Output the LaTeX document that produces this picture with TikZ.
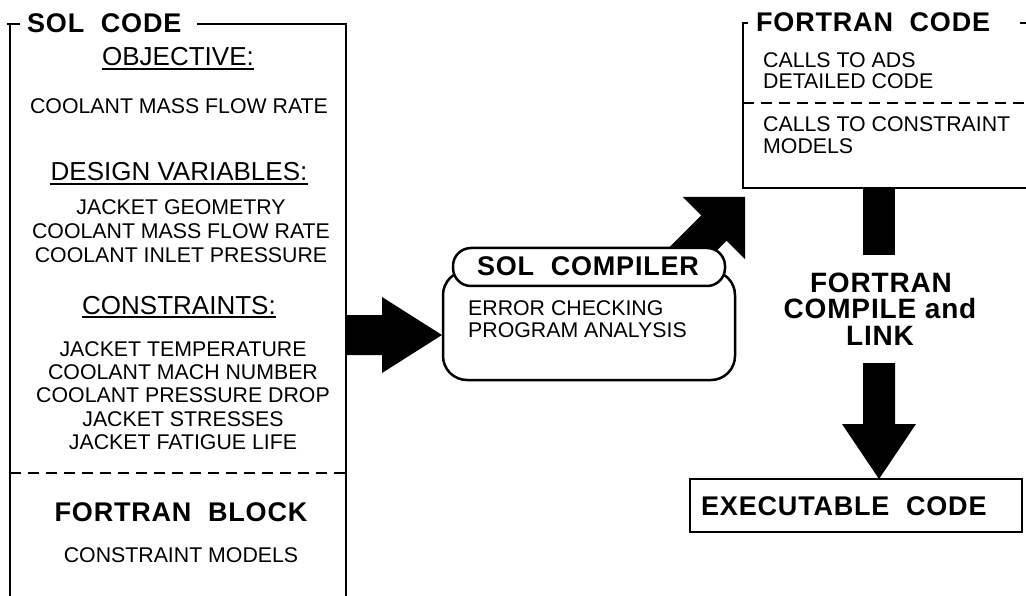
\documentclass[tikz,border=0pt]{standalone}
\usepackage{fontspec}
\setmainfont{Liberation Sans}
\newfontfamily\spacedsans[LetterSpace=3]{Liberation Sans}
\usetikzlibrary{calc}

% Filled block arrow from #1 to the tip #2:
% #3 shaft half-width, #4 head half-width, #5 head length
\newcommand\blockarrow[5]{%
  \coordinate (baneck) at ($(#2)!#5!(#1)$);
  \fill[blockarrow] ($(#1)!#3!90:(#2)$) -- ($(baneck)!#3!90:(#2)$)
    -- ($(baneck)!#4!90:(#2)$) -- (#2) -- ($(baneck)!#4!-90:(#2)$)
    -- ($(baneck)!#3!-90:(#2)$) -- ($(#1)!#3!-90:(#2)$) -- cycle;}

\begin{document}
\begin{tikzpicture}[x=1pt,y=-1pt,
  frame/.style={line width=2.5pt},
  sepline/.style={line width=2.2pt, dash pattern=on 11pt off 7pt},
  ulin/.style={line width=1.8pt},
  blockarrow/.style={fill=black},
  txt/.style={font=\fontsize{21.3}{24}\selectfont, inner sep=0pt},
  hd/.style={font=\fontsize{26}{30}\selectfont, inner sep=0pt},
  ttl/.style={font=\spacedsans\bfseries\fontsize{27}{30}\selectfont, inner sep=0pt},
  ttlbig/.style={font=\spacedsans\bfseries\fontsize{28}{30}\selectfont, inner sep=0pt}]

\useasboundingbox (0,0) rectangle (1026,596);

% ---------- SOL CODE panel ----------
\draw[frame] (7,24) -- (20,24);
\draw[frame] (10,24) -- (10,596);
\draw[frame] (197,24) -- (346,24) -- (346,596);
\node[ttl, anchor=base west] (soltitle) at (27,32.7) {SOL~~CODE};

\node[hd, anchor=base] (hobj) at (178,66) {OBJECTIVE:};
\draw[ulin] ($(hobj.base west)+(0,3)$) -- ($(hobj.base east)+(0,3)$);
\node[txt, anchor=base] (obj1) at (179,113.5) {COOLANT MASS FLOW RATE};

\node[hd, anchor=base] (hdv) at (179,181) {DESIGN VARIABLES:};
\draw[ulin] ($(hdv.base west)+(0,3)$) -- ($(hdv.base east)+(0,3)$);
\foreach \t/\yy [count=\i] in {JACKET GEOMETRY/207,
    COOLANT MASS FLOW RATE/231, COOLANT INLET PRESSURE/255}
  \node[txt, anchor=base] (dv\i) at (181,\yy+7.5) {\t};

\node[hd, anchor=base] (hcon) at (179,314) {CONSTRAINTS:};
\draw[ulin] ($(hcon.base west)+(0,3)$) -- ($(hcon.base east)+(0,3)$);
\foreach \t/\yy [count=\i] in {JACKET TEMPERATURE/349,
    COOLANT MACH NUMBER/372, COOLANT PRESSURE DROP/395,
    JACKET STRESSES/419, JACKET FATIGUE LIFE/442}
  \node[txt, anchor=base] (con\i) at (183,\yy+7.5) {\t};

\draw[sepline] (10,473) -- (346,473);
\node[ttl, anchor=base] (fblock) at (181,521.7) {FORTRAN~~BLOCK};
\node[txt, anchor=base] (cmodels) at (181,562.5) {CONSTRAINT MODELS};

% ---------- connector points ----------
\coordinate (solR)  at (346,335);
\coordinate (compW) at (442,335);
\coordinate (compN) at (670,272);
\coordinate (fcIn)  at (745,197);
\coordinate (fcB)   at (879,188);
\coordinate (lblT)  at (879,255);
\coordinate (lblB)  at (879,363);
\coordinate (exeT)  at (879,479);

% ---------- block arrows ----------
\blockarrow{solR}{compW}{20pt}{38pt}{60pt}
\blockarrow{compN}{fcIn}{18pt}{44pt}{44pt}
\draw[line width=32pt] (fcB) -- (lblT);
\blockarrow{lblB}{exeT}{16pt}{37pt}{55pt}

% ---------- SOL compiler ----------
\draw[frame, fill=white, rounded corners=24pt] (443,271) rectangle (735,380);
\draw[frame, fill=white, rounded corners=18pt] (453,248) rectangle (725,286);
\node[ttl, anchor=base] (comptitle) at (588,275.7) {SOL~~COMPILER};
\node[txt, anchor=base west] (comp1) at (468,315.5) {ERROR CHECKING};
\node[txt, anchor=base west] (comp2) at (468,337.5) {PROGRAM ANALYSIS};

% ---------- FORTRAN CODE panel ----------
\draw[frame] (748,23) -- (743,23) -- (743,188) -- (1026,188);
\draw[frame] (1020,23) -- (1026,23);
\node[ttl, anchor=base west] (fctitle) at (756,31.7) {FORTRAN~~CODE};
\node[txt, anchor=base west] (fc1) at (763,67.5) {CALLS TO ADS};
\node[txt, anchor=base west] (fc2) at (763,88.5) {DETAILED CODE};
\draw[sepline] (743,103) -- (1026,103);
\node[txt, anchor=base west] (fc3) at (763,131.5) {CALLS TO CONSTRAINT};
\node[txt, anchor=base west] (fc4) at (763,153.5) {MODELS};

% ---------- compile step label ----------
\node[ttlbig, anchor=base] (lbl1) at (881,292) {FORTRAN};
\node[ttlbig, anchor=base] (lbl2) at (880,318) {COMPILE and};
\node[ttlbig, anchor=base] (lbl3) at (880,345) {LINK};

% ---------- executable ----------
\draw[frame] (690,479) rectangle (1022,532);
\node[ttl, anchor=base west] (exe) at (701,515.2) {EXECUTABLE~~CODE};

\end{tikzpicture}
\end{document}
